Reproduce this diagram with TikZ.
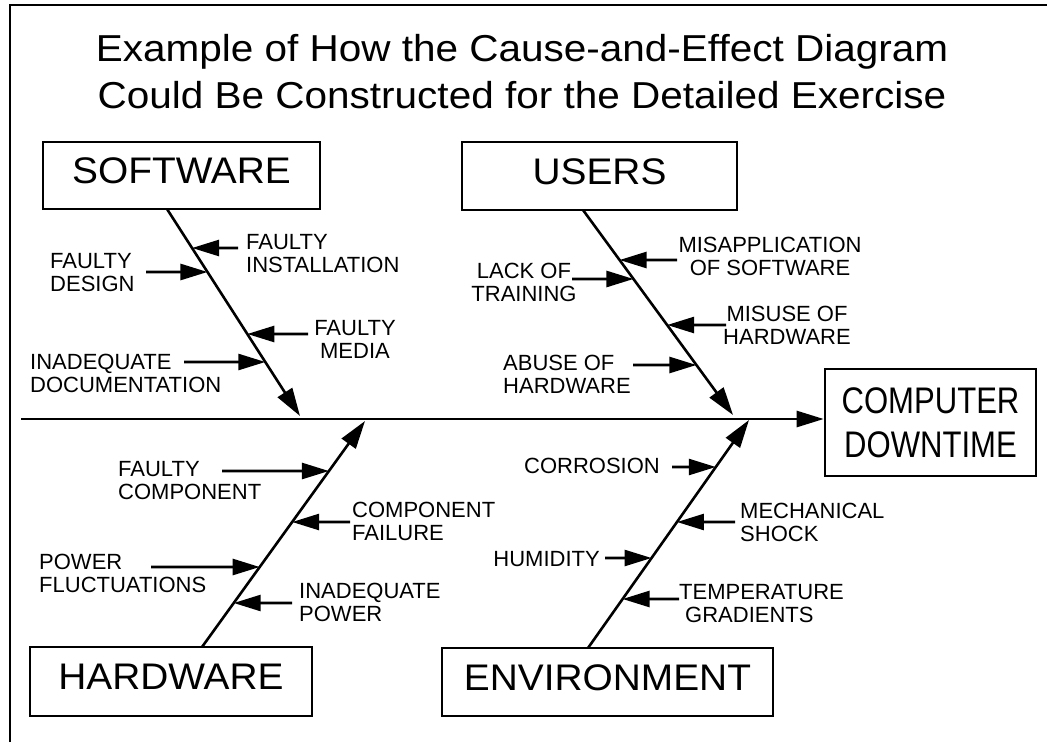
\documentclass[tikz,border=0pt]{standalone}
\usepackage{fontspec}
\setmainfont{Liberation Sans}
\usetikzlibrary{arrows.meta,calc}
\begin{document}
\begin{tikzpicture}[x=1pt,y=-1pt,
  frame/.style={line width=2.6pt},
  box/.style={draw, line width=2.6pt, inner sep=0pt, text height=26.5pt, text depth=10pt,
              font=\fontsize{37}{44}\selectfont},
  lbl/.style={inner sep=0pt, font=\fontsize{22}{23}\selectfont},
  arr/.style={line width=2.6pt, -{Triangle[length=27pt,width=16pt]}},
  bone/.style={line width=2.6pt, -{Triangle[length=28pt,width=17pt]}}
]
\useasboundingbox (0,0) rectangle (1047,742);
% frame
\draw[frame] (10,742) -- (10,5) -- (1047,5);
% title
\node[font=\fontsize{37.5}{47}\selectfont] (title) at (522,75.5)
  {\scalebox{1.08}[1]{\begin{tabular}{@{}c@{}}Example of How the Cause-and-Effect Diagram\\
   Could Be Constructed for the Detailed Exercise\end{tabular}}};
% category boxes
\node[box, minimum width=277pt, minimum height=67pt] (sw) at (181.5,175.5) {\scalebox{1.05}[1]{SOFTWARE}};
\node[box, minimum width=275pt, minimum height=68pt] (us) at (599.5,176) {\scalebox{1.05}[1]{USERS}};
\node[box, minimum width=282pt, minimum height=69pt] (hw) at (171,681.5) {\scalebox{1.05}[1]{HARDWARE}};
\node[box, minimum width=331pt, minimum height=68pt] (en) at (607.5,682) {\scalebox{1.05}[1]{ENVIRONMENT}};
% effect box
\node[draw, line width=2.6pt, inner sep=0pt, minimum width=211pt, minimum height=107pt] (cd) at (930.5,422.5) {};
\node[font=\fontsize{37}{44}\selectfont, inner sep=0pt] (cdtext) at ($(cd.center)+(0,4)$)
  {\scalebox{0.84}[1]{\begin{tabular}{@{}c@{}}COMPUTER\\DOWNTIME\end{tabular}}};
% spine
\coordinate (sp) at (21,419);
\draw[arr] (sp) -- (sp -| cd.west);
% bones
\coordinate (swA) at (167,209);  \coordinate (swB) at (300,416);
\coordinate (usA) at (583,210);  \coordinate (usB) at (733,415);
\coordinate (hwA) at (202,647);  \coordinate (hwB) at (365,421);
\coordinate (enA) at (588,648);  \coordinate (enB) at (749,420);
\draw[bone] (swA) -- (swB);
\draw[bone] (usA) -- (usB);
\draw[bone] (hwA) -- (hwB);
\draw[bone] (enA) -- (enB);
% software causes
\node[lbl, anchor=west, align=left] (tinst) at (246,253.5) {FAULTY\\INSTALLATION};
\node[lbl, anchor=west, align=left] (tdes) at (50,273) {FAULTY\\DESIGN};
\node[lbl, align=center] (tmed) at (355,339.5) {FAULTY\\MEDIA};
\node[lbl, anchor=west, align=left] (tdoc) at (30,373.5) {INADEQUATE\\DOCUMENTATION};
\coordinate (cinst) at (238,248);
\coordinate (cdes) at (146,272);
\coordinate (cmed) at (308,334);
\coordinate (cdoc) at (184,362);
\draw[arr] (cinst) -- ($(swA)!{(248-209)/207}!(swB)$);
\draw[arr] (cdes) -- ($(swA)!{(272-209)/207}!(swB)$);
\draw[arr] (cmed) -- ($(swA)!{(334-209)/207}!(swB)$);
\draw[arr] (cdoc) -- ($(swA)!{(362-209)/207}!(swB)$);
% users causes
\node[lbl, align=center] (tmis) at (770,256) {MISAPPLICATION\\OF SOFTWARE};
\node[lbl, align=center] (tlack) at (524,282) {LACK OF\\TRAINING};
\node[lbl, align=center] (tmisu) at (787,325.5) {MISUSE OF\\HARDWARE};
\node[lbl, anchor=west, align=left] (tabu) at (503,374) {ABUSE OF\\HARDWARE};
\coordinate (cmis) at (677,260);
\coordinate (clack) at (572,279);
\coordinate (cmisu) at (726,325);
\coordinate (cabu) at (633,365);
\draw[arr] (cmis) -- ($(usA)!{(260-210)/205}!(usB)$);
\draw[arr] (clack) -- ($(usA)!{(279-210)/205}!(usB)$);
\draw[arr] (cmisu) -- ($(usA)!{(325-210)/205}!(usB)$);
\draw[arr] (cabu) -- ($(usA)!{(365-210)/205}!(usB)$);
% hardware causes
\node[lbl, anchor=west, align=left] (tfc) at (118,481) {FAULTY\\COMPONENT};
\node[lbl, anchor=west, align=left] (tcf) at (352,521) {COMPONENT\\FAILURE};
\node[lbl, anchor=west, align=left] (tpf) at (39,573) {POWER\\FLUCTUATIONS};
\node[lbl, anchor=west, align=left] (tip) at (299,602.5) {INADEQUATE\\POWER};
\coordinate (cfc) at (222,471);
\coordinate (ccf) at (350,522);
\coordinate (cpf) at (151,567);
\coordinate (cip) at (292,603);
\draw[arr] (cfc) -- ($(hwA)!{(647-471)/226}!(hwB)$);
\draw[arr] (ccf) -- ($(hwA)!{(647-522)/226}!(hwB)$);
\draw[arr] (cpf) -- ($(hwA)!{(647-567)/226}!(hwB)$);
\draw[arr] (cip) -- ($(hwA)!{(647-603)/226}!(hwB)$);
% environment causes
\node[lbl, anchor=east] (tcor) at (660,466) {CORROSION};
\node[lbl, anchor=west, align=left] (tmec) at (740,522) {MECHANICAL\\SHOCK};
\node[lbl, anchor=east] (thum) at (600,559) {HUMIDITY};
\node[lbl, anchor=west, align=left] (ttem) at (679,603.5) {TEMPERATURE\\\hspace*{6pt}GRADIENTS};
\coordinate (ccor) at (672,467);
\coordinate (cmec) at (735,522);
\coordinate (chum) at (605,558);
\coordinate (ctem) at (679,599);
\draw[arr] (ccor) -- ($(enA)!{(648-467)/228}!(enB)$);
\draw[arr] (cmec) -- ($(enA)!{(648-522)/228}!(enB)$);
\draw[arr] (chum) -- ($(enA)!{(648-558)/228}!(enB)$);
\draw[arr] (ctem) -- ($(enA)!{(648-599)/228}!(enB)$);
\end{tikzpicture}
\end{document}
